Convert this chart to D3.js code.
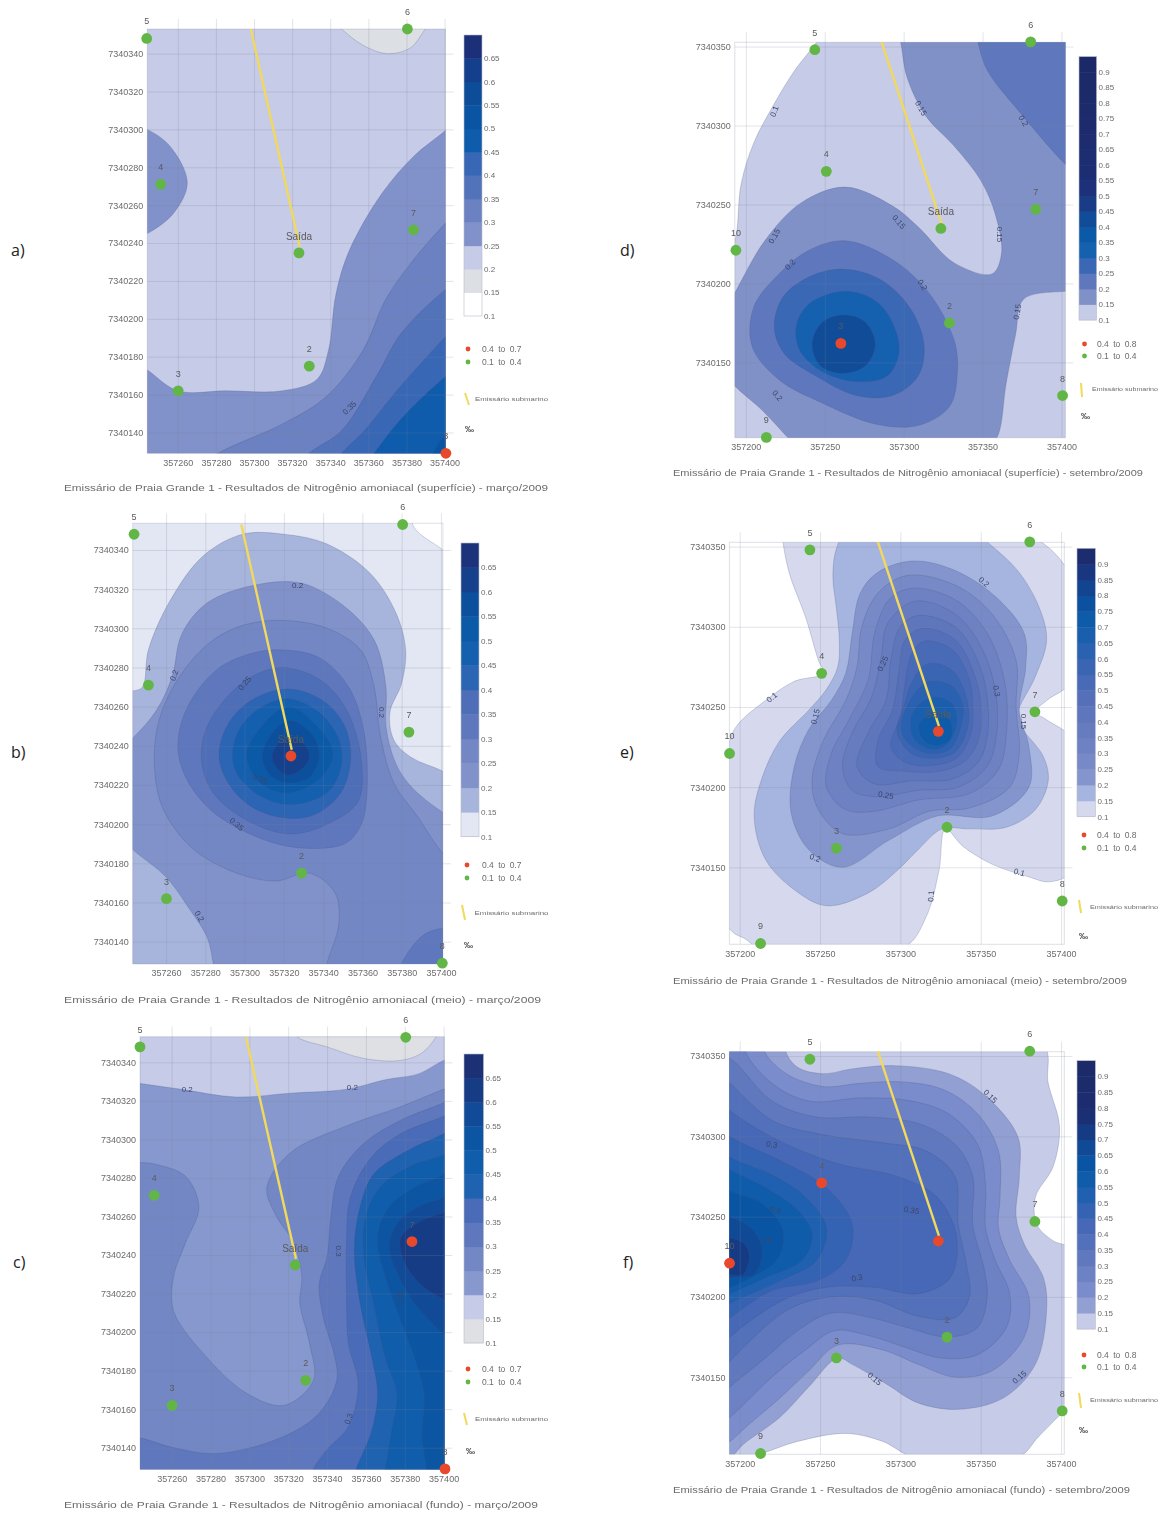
<!DOCTYPE html>
<html>
<head>
<meta charset="utf-8">
<script src="https://cdn.jsdelivr.net/npm/d3@7"></script>
<style>
  body { margin: 0; background: #fff; }
  svg { display: block; }
  text { font-family: "Liberation Sans", sans-serif; }
  .soft { filter: blur(0.7px); }
  .letter { font-family: "Open Sans", sans-serif; font-size: 16px; fill: #222; }
</style>
</head>
<body>
<script>
// all east / north values are metres past 357000 E and 7340000 N
const EAST0 = 357000, NORTH0 = 7340000;

const stations = [
  ["5", 243.7, 348], ["6", 380.5, 353], ["4", 251, 271], ["Saída", 323.6, 234.8], ["7", 383.7, 247],
  ["2", 329, 175], ["3", 260.2, 162], ["8", 400.7, 129], ["9", 213, 102.5], ["10", 193.7, 221]
];
const stationsMarco = ["5", "6", "4", "Saída", "7", "2", "3", "8"];
const stationsSetembro = ["5", "6", "4", "Saída", "7", "2", "3", "8", "9", "10"];

const pipeMarco = [[298.3, 353], [324, 238]];
const pipeSetembro = [[286, 353], [324, 238]];

const xTicksMarco = [260, 280, 300, 320, 340, 360, 380, 400];
const yTicksMarco = [140, 160, 180, 200, 220, 240, 260, 280, 300, 320, 340];
const xTicksSetembro = [200, 250, 300, 350, 400];
const yTicksSetembro = [150, 200, 250, 300, 350];

const scaleLabelsMarco = [0.1, 0.15, 0.2, 0.25, 0.3, 0.35, 0.4, 0.45, 0.5, 0.55, 0.6, 0.65];
const scaleLabelsSetembro = [0.1, 0.15, 0.2, 0.25, 0.3, 0.35, 0.4, 0.45, 0.5, 0.55, 0.6, 0.65, 0.7, 0.75, 0.8, 0.85, 0.9];

// colours of the bands, first one starts at 0.1, one per 0.05
const rampA = ["#ffffff", "#dcdfe3", "#c6cbe8", "#8191c9", "#6c81c1", "#5272ba", "#3868b5", "#0e5cab", "#0a55a3", "#0c4c98", "#143f8c", "#1b3078"];
const rampB = ["#e3e6f3", "#a7b5dc", "#8191c9", "#7287c4", "#5f78bd", "#4f6eb8", "#2b65b3", "#1560ae", "#0a5aa8", "#0c4f9c", "#15408c", "#1c327a"];
const rampC = ["#dfe0e3", "#c6cbe8", "#8698cd", "#7287c4", "#5f78bd", "#4a6cb8", "#1e62b0", "#0f5dab", "#0c55a2", "#114a96", "#173c86", "#1c3076"];
const rampD = ["#c6cbe7", "#8091c8", "#5f78bd", "#3a68b5", "#1661af", "#0b5aa8", "#114c98", "#1a3c86", "#1c3179", "#1c2e73", "#1c2d71", "#1c2c6f", "#1c2b6d", "#1c2b6b", "#1c2a6a", "#1c2a69", "#1c2968"];
const rampE = ["#d6d9ee", "#a6b5df", "#8395cc", "#7789c6", "#6e82c3", "#667cbf", "#5e76bc", "#5570b9", "#496ab6", "#3a65b3", "#2a62b1", "#1a5fae", "#0d5ba9", "#0c50a0", "#134490", "#193780", "#1c2c6f"];
const rampF = ["#c6cbe7", "#929fd2", "#7a8ccb", "#6d82c4", "#6079be", "#5370ba", "#4668b6", "#3563b3", "#2060b0", "#0f5cab", "#0a55a3", "#104a96", "#163b85", "#1b2f74", "#1c2c6f", "#1c2b6c", "#1c2a69"];

// contour bands: [lower limit, outline]
const bandsA = [
  [0.2, [[230, 362], [412, 362], [412, 118], [230, 118]]],
  [0.15, [[340, 360], [346, 353], [358, 344], [370, 340], [382, 343], [390, 353], [396, 360]]],
  [0.25, [[230, 305], [244, 300], [256, 291], [265, 272], [258, 256], [244, 245], [230, 240]]],
  [0.25, [[236, 178], [244, 173], [260, 162], [285, 162], [315, 162], [333, 168], [339, 183], [343, 213], [350, 236], [367, 266], [384, 286], [400, 299], [412, 310], [412, 118], [236, 118]]],
  [0.3, [[281, 129], [316, 145], [338, 159], [357, 183], [369, 210], [382, 229], [400, 250], [415, 265], [415, 115], [265, 118]]],
  [0.35, [[329, 129], [346, 141], [365, 171], [377, 192], [400, 215], [415, 225], [415, 115], [320, 118]]],
  [0.4, [[346, 129], [358, 141], [375, 162], [400, 190], [415, 205], [415, 115], [338, 118]]],
  [0.45, [[363, 129], [378, 148], [400, 169], [415, 180], [415, 115], [355, 118]]],
  [0.5, [[394, 129], [400, 138], [415, 145], [415, 115], [388, 118]]]
];

const bandsB = [
  [0.1, [[225, 365], [385, 365], [386, 352], [401, 340], [420, 325], [420, 110], [225, 110]]],
  [0.15, [[243, 268], [248, 270], [251, 289], [262, 314], [279, 337], [299, 348], [320, 348], [342, 343], [364, 328], [377, 308], [382, 289], [380, 272], [374, 257], [376, 243], [385, 234], [401, 227], [412, 220], [412, 118], [232, 118], [232, 268]]],
  [0.2, [[243, 244], [255, 258], [263, 275], [268, 297], [281, 313], [305, 322], [329, 323], [351, 311], [366, 294], [372, 270], [372, 250], [377, 231], [385, 219], [401, 206], [412, 200], [412, 118], [286, 118], [284, 129], [281, 142], [271, 158], [260, 173], [243, 187], [235, 195], [235, 238]]],
  [0.25, [[320, 304], [342, 300], [359, 289], [366, 270], [369, 246], [376, 221], [388, 204], [401, 185], [412, 175], [412, 118], [340, 118], [342, 129], [348, 149], [346, 165], [333, 175], [316, 171], [296, 175], [273, 188], [258, 209], [254, 233], [257, 255], [268, 277], [284, 294], [301, 302]]],
  [0.3, [[375, 120], [380, 129], [385, 137], [392, 144], [401, 147], [412, 148], [412, 118]]],
  [0.3, [[318, 289], [338, 285], [353, 270], [361, 246], [362, 212], [359, 199], [351, 190], [327, 188], [305, 194], [283, 207], [270, 224], [266, 240], [271, 260], [286, 279], [303, 287]]],
  [0.35, [[320, 280], [338, 274], [351, 260], [359, 236], [358, 212], [342, 200], [323, 195], [301, 202], [284, 216], [278, 233], [281, 250], [294, 268], [307, 277]]],
  [0.4, [[322, 269], [340, 263], [351, 250], [354, 233], [349, 216], [336, 205], [322, 203], [305, 208], [293, 219], [287, 234], [291, 250], [303, 263]]],
  [0.45, [[322, 264], [338, 257], [348, 243], [349, 229], [342, 216], [323, 210], [307, 215], [296, 226], [294, 238], [299, 251], [309, 260]]],
  [0.5, [[322, 260], [336, 251], [345, 236], [338, 223], [322, 216], [308, 221], [301, 235], [307, 248]]],
  [0.55, [[323, 253], [335, 245], [338, 234], [333, 224], [322, 221], [313, 225], [309, 234], [313, 245]]],
  [0.6, [[323, 244], [331, 240], [333, 234], [329, 228], [322, 225], [317, 228], [314, 234], [317, 241]]]
];

const bandsC = [
  [0.15, [[230, 362], [412, 362], [412, 118], [230, 118]]],
  [0.1, [[320, 360], [325, 353], [340, 348], [359, 342], [378, 341], [389, 345], [396, 353], [400, 360]]],
  [0.2, [[232, 331], [244, 329], [265, 326], [293, 322], [321, 324], [350, 326], [370, 331], [387, 334], [400, 341], [412, 345], [412, 118], [232, 118]]],
  [0.25, [[400, 326], [378, 317], [350, 307], [321, 293], [309, 275], [314, 260], [323, 246], [327, 229], [326, 215], [331, 194], [333, 175], [318, 162], [299, 168], [278, 187], [261, 211], [261, 229], [267, 246], [274, 265], [267, 281], [252, 287], [244, 288], [232, 288], [232, 118], [412, 118], [412, 330]]],
  [0.3, [[400, 319], [378, 310], [359, 298], [346, 281], [342, 260], [340, 239], [336, 225], [338, 208], [344, 187], [345, 175], [336, 158], [318, 146], [284, 137], [261, 140], [244, 145], [232, 146], [232, 118], [412, 118], [412, 325]]],
  [0.35, [[400, 312], [378, 303], [363, 291], [352, 270], [350, 246], [350, 220], [351, 194], [356, 173], [351, 151], [340, 139], [333, 129], [330, 118], [412, 118], [412, 318]]],
  [0.4, [[400, 303], [381, 294], [364, 282], [357, 265], [354, 243], [357, 215], [363, 187], [366, 168], [363, 149], [355, 129], [352, 118], [412, 118], [412, 310]]],
  [0.45, [[400, 292], [383, 286], [368, 276], [360, 260], [359, 239], [364, 215], [370, 187], [376, 168], [373, 147], [370, 129], [368, 118], [412, 118], [412, 300]]],
  [0.5, [[400, 282], [385, 275], [372, 265], [366, 249], [370, 229], [378, 206], [385, 187], [390, 168], [389, 146], [391, 129], [390, 118], [412, 118], [412, 295]]],
  [0.55, [[400, 270], [387, 265], [376, 256], [372, 244], [377, 229], [385, 215], [400, 199], [412, 190], [412, 280]]],
  [0.6, [[400, 262], [389, 258], [378, 249], [380, 236], [389, 224], [400, 217], [412, 212], [412, 268]]]
];

const bandsD = [
  [0.1, [[245, 353], [231, 335], [217, 312], [205, 289], [197, 263], [193, 227], [186, 215], [186, 92], [412, 92], [412, 362], [250, 362]]],
  [0.15, [[298, 353], [302, 331], [314, 306], [332, 287], [349, 265], [358, 244], [362, 219], [356, 206], [332, 213], [309, 236], [293, 249], [263, 261], [235, 251], [212, 227], [193, 194], [185, 180], [185, 145], [193, 135], [210, 120], [227, 102], [235, 94], [350, 94], [359, 102], [365, 137], [371, 168], [376, 190], [402, 195], [412, 195], [412, 362], [295, 362]]],
  [0.2, [[347, 353], [353, 335], [374, 308], [402, 276], [412, 268], [412, 362], [345, 362]]],
  [0.2, [[263, 227], [293, 215], [316, 194], [332, 164], [334, 143], [329, 122], [309, 110], [282, 111], [249, 124], [221, 139], [204, 160], [205, 185], [221, 206], [240, 221]]],
  [0.25, [[263, 209], [286, 202], [305, 183], [313, 160], [309, 141], [293, 129], [270, 129], [245, 141], [224, 156], [218, 173], [224, 192], [242, 205]]],
  [0.3, [[263, 195], [282, 189], [293, 175], [297, 156], [289, 141], [268, 138], [247, 145], [234, 158], [232, 173], [240, 187]]],
  [0.4, [[261, 180], [275, 176], [282, 162], [276, 148], [261, 143], [247, 148], [242, 162], [248, 175]]]
];

const bandsE = [
  [0.1, [[227, 353], [231, 333], [241, 306], [249, 279], [252, 271], [234, 266], [216, 254], [198, 238], [193, 225], [193, 113], [204, 105], [212, 100], [302, 100], [316, 119], [324, 148], [328, 174], [339, 163], [357, 152], [380, 144], [393, 141], [407, 148], [407, 229], [391, 242], [384, 247], [391, 254], [407, 267], [407, 329], [382, 356], [334, 358], [227, 358]]],
  [0.15, [[260, 348], [258, 331], [260, 313], [262, 292], [261, 275], [254, 261], [243, 248], [225, 229], [214, 206], [209, 182], [216, 155], [234, 136], [254, 126], [280, 134], [298, 148], [311, 161], [326, 174], [343, 174], [366, 175], [384, 186], [392, 204], [389, 219], [375, 238], [373, 246], [384, 269], [391, 292], [386, 313], [373, 335], [354, 353], [348, 358], [266, 358]]],
  [0.2, [[307, 341], [332, 336], [359, 319], [377, 296], [378, 275], [374, 248], [380, 225], [380, 200], [357, 182], [323, 182], [293, 167], [264, 150], [243, 161], [232, 184], [234, 213], [243, 236], [257, 254], [266, 271], [270, 296], [275, 321], [286, 334]]],
  [0.25, [[304, 332], [334, 326], [357, 308], [372, 279], [372, 250], [374, 221], [368, 200], [343, 187], [318, 185], [293, 174], [264, 171], [249, 186], [245, 204], [252, 229], [266, 254], [273, 275], [276, 300], [286, 321]]],
  [0.3, [[307, 324], [334, 317], [354, 296], [365, 265], [366, 234], [361, 211], [343, 196], [311, 192], [284, 185], [266, 186], [254, 200], [257, 221], [268, 242], [280, 267], [284, 296], [293, 317]]],
  [0.35, [[309, 316], [334, 308], [350, 288], [359, 261], [360, 234], [354, 213], [336, 200], [311, 198], [286, 194], [270, 198], [264, 213], [270, 234], [282, 256], [288, 281], [292, 302]]],
  [0.4, [[311, 307], [334, 300], [348, 279], [354, 256], [354, 231], [348, 215], [332, 205], [307, 204], [284, 202], [273, 213], [280, 234], [291, 254], [294, 279], [300, 300]]],
  [0.45, [[314, 299], [334, 292], [345, 273], [350, 252], [349, 231], [341, 217], [325, 210], [302, 210], [286, 213], [286, 229], [295, 248], [299, 271], [303, 292]]],
  [0.5, [[315, 291], [332, 286], [343, 267], [345, 250], [344, 234], [336, 219], [323, 214], [304, 215], [294, 225], [300, 244], [303, 265], [307, 283]]],
  [0.55, [[317, 277], [332, 273], [341, 256], [342, 238], [334, 222], [320, 218], [307, 221], [298, 234], [302, 250], [308, 267]]],
  [0.6, [[318, 266], [332, 263], [339, 250], [337, 236], [331, 224], [319, 221], [308, 225], [300, 236], [304, 250], [311, 261]]],
  [0.65, [[322, 256], [332, 252], [335, 240], [328, 226], [318, 224], [308, 231], [307, 244], [312, 252]]],
  [0.7, [[323, 246], [331, 241], [331, 230], [322, 226], [314, 230], [312, 240]]]
];

const bandsF = [
  [0.1, [[388, 358], [392, 333], [399, 306], [395, 281], [384, 262], [385, 245], [395, 235], [407, 229], [407, 133], [401, 128], [386, 113], [373, 100], [309, 100], [289, 110], [266, 115], [236, 110], [212, 102], [202, 100], [190, 100], [190, 358]]],
  [0.15, [[229, 352], [236, 343], [252, 339], [270, 342], [296, 344], [330, 339], [352, 326], [373, 300], [374, 275], [372, 250], [377, 233], [389, 212], [391, 192], [384, 158], [364, 137], [336, 130], [311, 134], [291, 146], [270, 158], [261, 162], [243, 144], [225, 125], [202, 108], [194, 100], [185, 100], [185, 358], [229, 358]]],
  [0.2, [[216, 352], [229, 339], [252, 331], [275, 333], [300, 334], [327, 329], [348, 314], [361, 291], [362, 262], [361, 243], [368, 223], [380, 200], [377, 175], [357, 154], [334, 150], [311, 158], [289, 167], [261, 170], [243, 154], [225, 137], [204, 119], [194, 110], [185, 105], [185, 358], [216, 358]]],
  [0.25, [[204, 352], [220, 333], [243, 322], [277, 324], [307, 322], [330, 314], [348, 295], [353, 270], [353, 243], [359, 223], [368, 202], [366, 181], [348, 164], [325, 162], [302, 169], [280, 176], [259, 179], [241, 167], [220, 150], [194, 125], [185, 118], [185, 358], [204, 358]]],
  [0.3, [[196, 347], [220, 322], [248, 312], [280, 312], [311, 308], [334, 295], [345, 275], [345, 245], [352, 218], [354, 200], [348, 181], [330, 175], [304, 181], [282, 187], [257, 190], [236, 179], [216, 162], [194, 144], [185, 135], [185, 352]]],
  [0.35, [[194, 333], [220, 310], [252, 301], [289, 296], [316, 291], [334, 275], [336, 245], [341, 221], [343, 200], [334, 187], [311, 188], [284, 198], [257, 200], [230, 192], [194, 160], [185, 150], [185, 340]]],
  [0.4, [[194, 316], [225, 297], [261, 283], [298, 275], [323, 262], [335, 237], [331, 212], [311, 202], [284, 206], [254, 206], [227, 198], [194, 175], [185, 165], [185, 325]]],
  [0.45, [[194, 300], [225, 285], [254, 268], [270, 245], [266, 223], [248, 210], [220, 204], [194, 187], [185, 180], [185, 310]]],
  [0.5, [[194, 287], [220, 276], [241, 262], [254, 243], [248, 223], [225, 210], [194, 196], [185, 190], [185, 295]]],
  [0.55, [[194, 279], [216, 268], [236, 254], [245, 239], [239, 223], [216, 212], [194, 202], [185, 198], [185, 285]]],
  [0.6, [[194, 266], [214, 258], [227, 241], [223, 223], [207, 212], [194, 206], [185, 203], [185, 272]]],
  [0.65, [[194, 250], [207, 243], [214, 229], [209, 214], [194, 212], [185, 210], [185, 255]]],
  [0.7, [[194, 237], [203, 233], [206, 225], [202, 214], [194, 214], [185, 214], [185, 240]]]
];

// contour labels: [text, east, north, angle]
const labelsA = [["0.35", 350, 153, -45]];
const labelsB = [["0.2", 327, 322, 0], ["0.2", 264, 276, -70], ["0.25", 300, 272, -50], ["0.2", 370, 257, 90], ["0.55", 308, 223, 20], ["0.35", 296, 200, 40], ["0.2", 277, 153, 60]];
const labelsC = [["0.2", 268, 326, 0], ["0.2", 353, 327, 0], ["0.3", 346, 242, 90], ["0.5", 378, 218, 80], ["0.3", 351, 155, -70]];
const labelsD = [["0.1", 218, 309, -70], ["0.15", 311, 311, 60], ["0.2", 376, 303, 60], ["0.15", 297, 239, 50], ["0.15", 361, 231, 90], ["0.15", 218, 230, -60], ["0.2", 228, 212, -50], ["0.2", 312, 199, 60], ["0.15", 372, 182, -80], ["0.2", 220, 129, 50]];
const labelsE = [["0.1", 220, 256, -40], ["0.2", 352, 328, 40], ["0.25", 289, 277, -65], ["0.15", 247, 244, -75], ["0.3", 360, 260, 80], ["0.15", 377, 241, 90], ["0.25", 291, 195, 10], ["0.2", 247, 156, 20], ["0.1", 374, 147, 15], ["0.1", 319, 132, -85]];
const labelsF = [["0.15", 356, 325, 45], ["0.3", 220, 295, 10], ["0.4", 222, 254, 10], ["0.6", 217, 236, 0], ["0.35", 307, 254, 10], ["0.3", 273, 212, -10], ["0.15", 284, 149, 40], ["0.15", 374, 150, -40]];

const captionA = "Emissário de Praia Grande 1 - Resultados de Nitrogênio amoniacal (superfície) - março/2009";
const captionB = "Emissário de Praia Grande 1 - Resultados de Nitrogênio amoniacal (meio) - março/2009";
const captionC = "Emissário de Praia Grande 1 - Resultados de Nitrogênio amoniacal (fundo) - março/2009";
const captionD = "Emissário de Praia Grande 1 - Resultados de Nitrogênio amoniacal (superfície) - setembro/2009";
const captionE = "Emissário de Praia Grande 1 - Resultados de Nitrogênio amoniacal (meio) - setembro/2009";
const captionF = "Emissário de Praia Grande 1 - Resultados de Nitrogênio amoniacal (fundo) - setembro/2009";

const marco = { xTicks: xTicksMarco, yTicks: yTicksMarco, names: stationsMarco, pipe: pipeMarco, scaleLabels: scaleLabelsMarco, scaleTop: 0.7, range: "0.4 to 0.7" };
const setembro = { xTicks: xTicksSetembro, yTicks: yTicksSetembro, names: stationsSetembro, pipe: pipeSetembro, scaleLabels: scaleLabelsSetembro, scaleTop: 0.95, range: "0.4 to 0.8" };

// page layout of every panel, px
const panels = [
  { ...marco, letter: "a)", letterAt: [11, 256], bands: bandsA, ramp: rampA, red: ["8"], labels: labelsA, caption: captionA,
    east: [244, 400.5], north: [129, 353], px: [147.3, 445.5], py: [453.3, 29], capX: [64, 548], capY: 491,
    bar: [464, 482, 316, 35], dots: [468, 349, 362], dotText: 482, pipeKey: [465, 393, 469, 405], keyText: [475, 401, 73], permil: [465, 432] },
  { ...marco, letter: "b)", letterAt: [11, 758], bands: bandsB, ramp: rampB, red: ["Saída"], labels: labelsB, caption: captionB,
    east: [243, 401], north: [128.6, 353.6], px: [132.7, 442.9], py: [964, 523.3], capX: [64, 541], capY: 1003,
    bar: [461, 479, 836.7, 543], dots: [467, 865, 878], dotText: 482, pipeKey: [462, 905, 465, 920], keyText: [474.5, 915, 74], permil: [464, 948] },
  { ...marco, letter: "c)", letterAt: [13, 1268], bands: bandsC, ramp: rampC, red: ["7", "8"], labels: labelsC, caption: captionC,
    east: [243.7, 400.4], north: [128.8, 353.3], px: [140, 444.4], py: [1469.3, 1036.7], capX: [64, 538], capY: 1508,
    bar: [464, 483.5, 1343, 1054], dots: [468, 1369, 1382], dotText: 482, pipeKey: [464, 1413, 467, 1425], keyText: [475, 1421, 73], permil: [466, 1454] },
  { ...setembro, letter: "d)", letterAt: [620, 256], bands: bandsD, ramp: rampD, red: ["3"], labels: labelsD, caption: captionD,
    east: [193, 402.5], north: [102.3, 352.7], px: [734.8, 1065.4], py: [437.7, 42.3], capX: [673, 1143], capY: 476,
    bar: [1079, 1096.6, 320, 56.6], dots: [1084.5, 344, 356], dotText: 1097, pipeKey: [1081, 383, 1082, 397], keyText: [1092, 391, 66], permil: [1081, 419] },
  { ...setembro, letter: "e)", letterAt: [620, 758], bands: bandsE, ramp: rampE, red: ["Saída"], labels: labelsE, caption: captionE,
    east: [193.6, 402], north: [102, 352.7], px: [729.4, 1064.3], py: [944.3, 542.3], capX: [673, 1127], capY: 984,
    bar: [1077, 1095.4, 816.7, 548.3], dots: [1084, 835, 848], dotText: 1097, pipeKey: [1079, 900, 1081, 913], keyText: [1090, 909, 68], permil: [1079, 939] },
  { ...setembro, letter: "f)", letterAt: [623, 1268], bands: bandsF, ramp: rampF, red: ["Saída", "4", "10"], hideName: "Saída", labels: labelsF, caption: captionF,
    east: [193.6, 402], north: [102, 352.7], px: [729.4, 1064.3], py: [1454.3, 1051.7], capX: [673, 1130], capY: 1493,
    bar: [1077, 1095.4, 1329, 1060.7], dots: [1084, 1355, 1367], dotText: 1097, pipeKey: [1079, 1393, 1081, 1408], keyText: [1090, 1402, 68], permil: [1079, 1433] }
];

const GREEN = "#62b646", RED = "#e8482c", YELLOW = "#f0d95c", GREY = "#6b6b6b";

const svg = d3.select("body").append("svg").attr("width", 1162).attr("height", 1515);

panels.forEach((p, i) => {
  const x = d3.scaleLinear().domain(p.east).range(p.px);
  const y = d3.scaleLinear().domain(p.north).range(p.py);
  const left = p.px[0], right = p.px[1], top = p.py[1], bottom = p.py[0];

  svg.append("text").attr("class", "letter").attr("x", p.letterAt[0]).attr("y", p.letterAt[1]).text(p.letter);

  const g = svg.append("g").attr("class", "soft");

  // filled bands, low to high, clipped to the map
  svg.append("clipPath").attr("id", "clip" + i).append("rect")
    .attr("x", left).attr("y", top).attr("width", right - left).attr("height", bottom - top);

  const outline = d3.line().x(d => x(d[0])).y(d => y(d[1])).curve(d3.curveCatmullRomClosed.alpha(0.5));
  const colour = d3.scaleQuantize().domain([0.1, 0.1 + p.ramp.length * 0.05]).range(p.ramp);

  g.append("g").attr("clip-path", `url(#clip${i})`)
    .selectAll("path").data(p.bands).join("path")
    .attr("d", d => outline(d[1]))
    .attr("fill", d => colour(d[0] + 0.01))
    .attr("stroke", "#44527f").attr("stroke-opacity", 0.4).attr("stroke-width", 0.6);

  // grid comes from the axes
  const xAxis = d3.axisBottom(x).tickValues(p.xTicks).tickSize(-(bottom - top) - 10).tickPadding(6)
    .tickFormat(d => EAST0 + d);
  const yAxis = d3.axisLeft(y).tickValues(p.yTicks).tickSize(-(right - left) - 8).tickPadding(4)
    .tickFormat(d => NORTH0 + d);

  [[xAxis, `translate(0,${bottom})`], [yAxis, `translate(${left},0)`]].forEach(([axis, at]) => {
    const a = g.append("g").attr("transform", at).call(axis);
    a.select(".domain").remove();
    a.selectAll("line").attr("stroke", "#7d859c").attr("stroke-opacity", 0.22);
    a.selectAll("text").attr("fill", GREY).attr("font-size", 9).attr("font-family", "Liberation Sans");
  });

  // faint map frame
  g.append("rect").attr("x", left).attr("y", top).attr("width", right - left).attr("height", bottom - top)
    .attr("fill", "none").attr("stroke", "#7d859c").attr("stroke-opacity", 0.25);

  // contour labels
  g.selectAll(".contourLabel").data(p.labels).join("text")
    .attr("class", "contourLabel")
    .attr("transform", d => `translate(${x(d[1])},${y(d[2])}) rotate(${d[3]})`)
    .attr("text-anchor", "middle").attr("dy", "0.35em")
    .attr("font-size", 8).attr("fill", "#3c4668")
    .text(d => d[0]);

  // emissary
  g.append("path").attr("d", d3.line().x(d => x(d[0])).y(d => y(d[1]))(p.pipe))
    .attr("stroke", YELLOW).attr("stroke-width", 2.4).attr("fill", "none");

  // stations
  const shown = stations.filter(s => p.names.includes(s[0]));
  g.selectAll("circle.station").data(shown).join("circle")
    .attr("class", "station")
    .attr("cx", d => x(d[1])).attr("cy", d => y(d[2])).attr("r", 5.4)
    .attr("fill", d => p.red.includes(d[0]) ? RED : GREEN);
  g.selectAll(".stationName").data(shown.filter(s => s[0] !== p.hideName)).join("text")
    .attr("class", "stationName")
    .attr("x", d => x(d[1])).attr("y", d => y(d[2]) - (d[0] === "Saída" ? 13 : 14))
    .attr("text-anchor", "middle")
    .attr("font-size", d => d[0] === "Saída" ? 10 : 9).attr("fill", "#5a5a5a")
    .text(d => d[0]);

  // colour scale
  const bar = d3.scaleLinear().domain([0.1, p.scaleTop]).range([p.bar[2], p.bar[3]]);
  const steps = d3.range(0, Math.round((p.scaleTop - 0.1) / 0.05)).map(k => 0.1 + k * 0.05);
  g.selectAll("rect.step").data(steps).join("rect")
    .attr("class", "step")
    .attr("x", p.bar[0]).attr("width", p.bar[1] - p.bar[0])
    .attr("y", d => bar(d + 0.05)).attr("height", d => bar(d) - bar(d + 0.05) + 0.4)
    .attr("fill", d => colour(d + 0.01) || "#1c2a69");
  g.append("rect").attr("x", p.bar[0]).attr("y", p.bar[3]).attr("width", p.bar[1] - p.bar[0])
    .attr("height", p.bar[2] - p.bar[3]).attr("fill", "none").attr("stroke", "#b9bdc9").attr("stroke-width", 0.6);
  g.selectAll(".stepLabel").data(p.scaleLabels).join("text")
    .attr("class", "stepLabel")
    .attr("x", p.bar[1] + 2).attr("y", d => bar(d)).attr("dy", "0.35em")
    .attr("font-size", 8).attr("fill", GREY)
    .text(d => d);

  // legend
  [[RED, p.range, p.dots[1]], [GREEN, "0.1 to 0.4", p.dots[2]]].forEach(([c, t, cy]) => {
    g.append("circle").attr("cx", p.dots[0]).attr("cy", cy).attr("r", 2.4).attr("fill", c);
    g.append("text").attr("x", p.dotText).attr("y", cy).attr("dy", "0.35em")
      .attr("font-size", 8.5).attr("fill", GREY).attr("word-spacing", 2).text(t);
  });
  g.append("line").attr("x1", p.pipeKey[0]).attr("y1", p.pipeKey[1]).attr("x2", p.pipeKey[2]).attr("y2", p.pipeKey[3])
    .attr("stroke", YELLOW).attr("stroke-width", 2);
  g.append("text").attr("x", p.keyText[0]).attr("y", p.keyText[1])
    .attr("font-size", 6).attr("fill", GREY)
    .attr("textLength", p.keyText[2]).attr("lengthAdjust", "spacingAndGlyphs")
    .text("Emissário submarino");
  g.append("text").attr("x", p.permil[0]).attr("y", p.permil[1])
    .attr("font-size", 9).attr("font-weight", "bold").attr("fill", "#444").text("‰");

  // caption
  g.append("text").attr("x", p.capX[0]).attr("y", p.capY)
    .attr("font-size", 9.5).attr("fill", GREY)
    .attr("textLength", p.capX[1] - p.capX[0]).attr("lengthAdjust", "spacingAndGlyphs")
    .text(p.caption);
});
</script>
</body>
</html>
